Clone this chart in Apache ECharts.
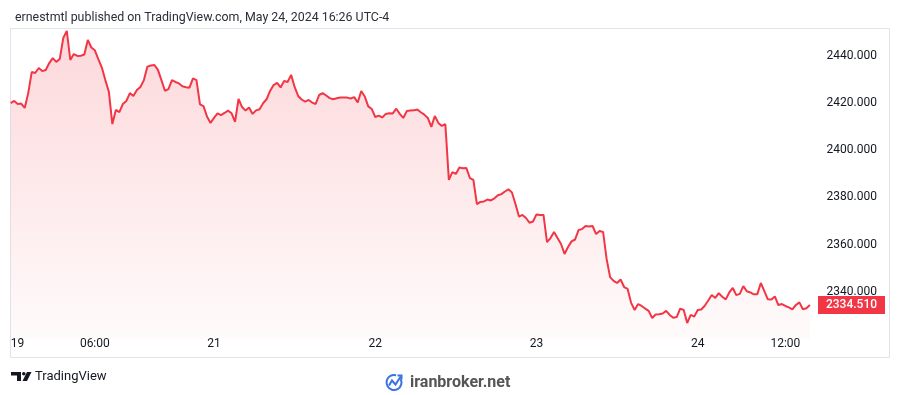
<!DOCTYPE html>
<html>
<head>
<meta charset="utf-8">
<script src="https://cdn.jsdelivr.net/npm/echarts@6/dist/echarts.min.js"></script>
<style>
html,body{margin:0;padding:0;background:#fff;}
#chart{width:900px;height:395px;}
</style>
</head>
<body>
<div id="chart"></div>
<script>
// XAUUSD 30-minute closes, from 19 May 18:00 to 24 May 16:00 (UTC-4)
const prices = [
2419.9,2420.8,2419.5,2419.7,2417.8,2424.1,2433.0,2432.6,2434.7,2433.4,
2433.9,2436.8,2438.9,2437.3,2438.5,2447.4,2450.4,2438.1,2440.6,2439.8,
2439.9,2440.4,2446.6,2443.4,2442.2,2438.5,2434.9,2429.6,2424.7,2411.0,
2417.0,2416.1,2419.5,2420.8,2424.1,2422.9,2425.4,2426.7,2429.6,2435.3,
2435.8,2436.0,2433.9,2429.6,2425.1,2425.8,2429.6,2428.8,2428.2,2427.0,
2426.6,2426.4,2430.3,2429.6,2419.3,2418.6,2414.2,2411.5,2413.6,2415.5,
2414.8,2415.7,2416.7,2415.6,2411.9,2421.6,2418.2,2416.7,2418.0,2415.3,
2416.8,2417.3,2419.8,2421.5,2425.0,2427.5,2428.4,2426.5,2429.2,2428.8,
2431.8,2426.7,2422.9,2421.4,2420.5,2421.2,2420.1,2419.5,2423.3,2424.1,
2423.1,2422.0,2421.5,2421.9,2422.2,2422.2,2422.2,2421.8,2422.4,2420.1,
2425.0,2422.7,2418.5,2417.4,2414.0,2414.6,2413.8,2415.3,2415.6,2415.5,
2417.5,2415.3,2413.6,2416.5,2416.7,2416.8,2417.2,2416.0,2415.0,2413.6,
2409.8,2414.4,2411.5,2410.2,2411.0,2387.4,2390.7,2389.9,2392.6,2392.3,
2392.4,2388.2,2387.4,2377.2,2378.1,2378.3,2379.1,2378.7,2379.6,2380.9,
2381.4,2382.5,2383.4,2382.1,2377.2,2371.9,2372.6,2371.3,2369.3,2369.8,
2372.8,2372.6,2372.6,2361.1,2362.8,2365.4,2362.8,2360.3,2356.1,2359.0,
2361.4,2362.2,2366.2,2366.6,2367.9,2367.7,2367.9,2364.5,2365.8,2365.4,
2354.0,2346.3,2344.7,2343.8,2345.3,2342.1,2341.3,2335.4,2332.4,2334.9,
2334.1,2333.0,2332.0,2329.0,2330.5,2330.6,2330.9,2332.0,2330.3,2329.1,
2329.4,2333.0,2332.4,2326.9,2330.3,2329.6,2332.4,2332.6,2334.2,2336.4,
2338.7,2337.5,2339.5,2338.0,2336.9,2339.8,2341.7,2338.7,2339.2,2342.5,
2340.3,2339.8,2339.0,2339.1,2343.8,2340.4,2336.9,2336.8,2338.1,2334.5,
2334.9,2334.1,2333.5,2332.7,2334.5,2335.6,2332.7,2333.1,2334.51
];

// time-axis tick labels and the bar index where each sits
const tickLabels = ['19', '06:00', '21', '22', '23', '24', '12:00'];
const tickIndex  = [0, 24, 58, 104, 150, 196, 221];

// price-scale ticks
const priceMin = 2320;
const priceMax = 2451.63;
const priceStep = 20;

const titleText = 'ernestmtl published on TradingView.com, May 24, 2024 16:26 UTC-4';

// category labels: 30-minute bars, session 18:00 -> 17:00 (one-hour daily break)
const months = ['Jan','Feb','Mar','Apr','May','Jun','Jul','Aug','Sep','Oct','Nov','Dec'];
function buildTimes(n) {
  const out = [];
  let t = Date.UTC(2024, 4, 19, 18, 0);
  for (let i = 0; i < n; i++) {
    const d = new Date(t);
    const hh = String(d.getUTCHours()).padStart(2, '0');
    const mm = String(d.getUTCMinutes()).padStart(2, '0');
    out.push(months[d.getUTCMonth()] + ' ' + d.getUTCDate() + ' ' + hh + ':' + mm);
    t += 30 * 60000;
    const n2 = new Date(t);
    if (n2.getUTCHours() === 17 && n2.getUTCMinutes() === 0) t += 60 * 60000;
  }
  return out;
}
const times = buildTimes(prices.length);

const font = 'Roboto, "Noto Sans", sans-serif';
const lineColor = '#f23645';
const textColor = '#131722';

const chart = echarts.init(document.getElementById('chart'), null, {renderer: 'canvas'});
const lastIdx = prices.length - 1;
const lastPrice = prices[lastIdx];

chart.setOption({
  animation: false,
  backgroundColor: '#ffffff',
  title: {
    text: titleText,
    left: 10, top: 7,
    textStyle: {fontSize: 12.4, fontWeight: 'normal', color: '#2a2e39', fontFamily: font}
  },
  grid: {left: 10.7, right: 90.1, top: 28, bottom: 55.7},
  xAxis: {
    type: 'category',
    data: times,
    boundaryGap: false,
    axisLine: {show: false},
    axisTick: {show: false},
    splitLine: {show: false},
    axisLabel: {
      interval: function (i) { return tickIndex.indexOf(i) >= 0; },
      formatter: function (v, i) { const p = tickIndex.indexOf(i); return p >= 0 ? tickLabels[p] : ''; },
      color: textColor, fontSize: 12, fontFamily: font,
      margin: 5, verticalAlign: 'middle', alignMinLabel: 'left'
    }
  },
  yAxis: {
    type: 'value',
    position: 'right',
    min: priceMin, max: priceMax, interval: priceStep,
    axisLine: {show: false},
    axisTick: {show: false},
    splitLine: {show: false},
    axisLabel: {
      showMinLabel: false, showMaxLabel: false,
      formatter: function (v) { return v.toFixed(3); },
      align: 'right', margin: 67,
      color: textColor, fontSize: 12, fontFamily: font
    }
  },
  series: [{
    type: 'line',
    data: prices,
    showSymbol: false,
    symbol: 'none',
    lineStyle: {color: lineColor, width: 2},
    itemStyle: {color: lineColor},
    areaStyle: {
      color: new echarts.graphic.LinearGradient(0, 0, 0, 1, [
        {offset: 0, color: 'rgba(242,54,69,0.28)'},
        {offset: 1, color: 'rgba(242,54,69,0.03)'}
      ])
    },
    markPoint: {
      silent: true,
      symbol: 'rect',
      symbolSize: [67, 18],
      symbolOffset: [41.6, 0],
      itemStyle: {color: lineColor},
      label: {show: true, formatter: lastPrice.toFixed(3), color: '#ffffff', fontSize: 12, fontWeight: 500, fontFamily: font},
      data: [{coord: [lastIdx, lastPrice]}]
    }
  }],
  graphic: [
    {type: 'rect', silent: true, z: 0,
     shape: {x: 10.5, y: 28.5, width: 879, height: 329},
     style: {fill: 'none', stroke: '#e0e3eb', lineWidth: 1}},
    // TradingView logo
    {type: 'polygon', silent: true,
     shape: {points: [[11,372],[21,372],[21,381],[17,381],[17,375.5],[11,375.5]]},
     style: {fill: '#131722'}},
    {type: 'circle', silent: true, shape: {cx: 23.8, cy: 373.8, r: 1.8}, style: {fill: '#131722'}},
    {type: 'polygon', silent: true,
     shape: {points: [[27,372],[31.5,372],[27,381],[22.5,381]]},
     style: {fill: '#131722'}},
    {type: 'text', silent: true, x: 35, y: 377,
     style: {text: 'TradingView', font: '13px ' + font, fill: textColor, verticalAlign: 'middle'}},
    // iranbroker icon
    {type: 'arc', silent: true, shape: {cx: 394, cy: 382.5, r: 7.5, startAngle: -0.5, endAngle: 5.0},
     style: {stroke: '#3b74e0', lineWidth: 2, fill: 'none'}},
    {type: 'polyline', silent: true, shape: {points: [[389,385.5],[392,380.5],[395.5,384.5],[401,376]]},
     style: {stroke: '#3b74e0', lineWidth: 2, fill: 'none'}},
    {type: 'polyline', silent: true, shape: {points: [[397.5,375.5],[401.5,375.5],[401.5,379.5]]},
     style: {stroke: '#3b74e0', lineWidth: 2, fill: 'none'}},
    {type: 'text', silent: true, x: 410, y: 383,
     style: {text: 'iranbroker.net', font: 'bold 16px ' + font, fill: '#555555', verticalAlign: 'middle'}}
  ]
});
</script>
</body>
</html>
